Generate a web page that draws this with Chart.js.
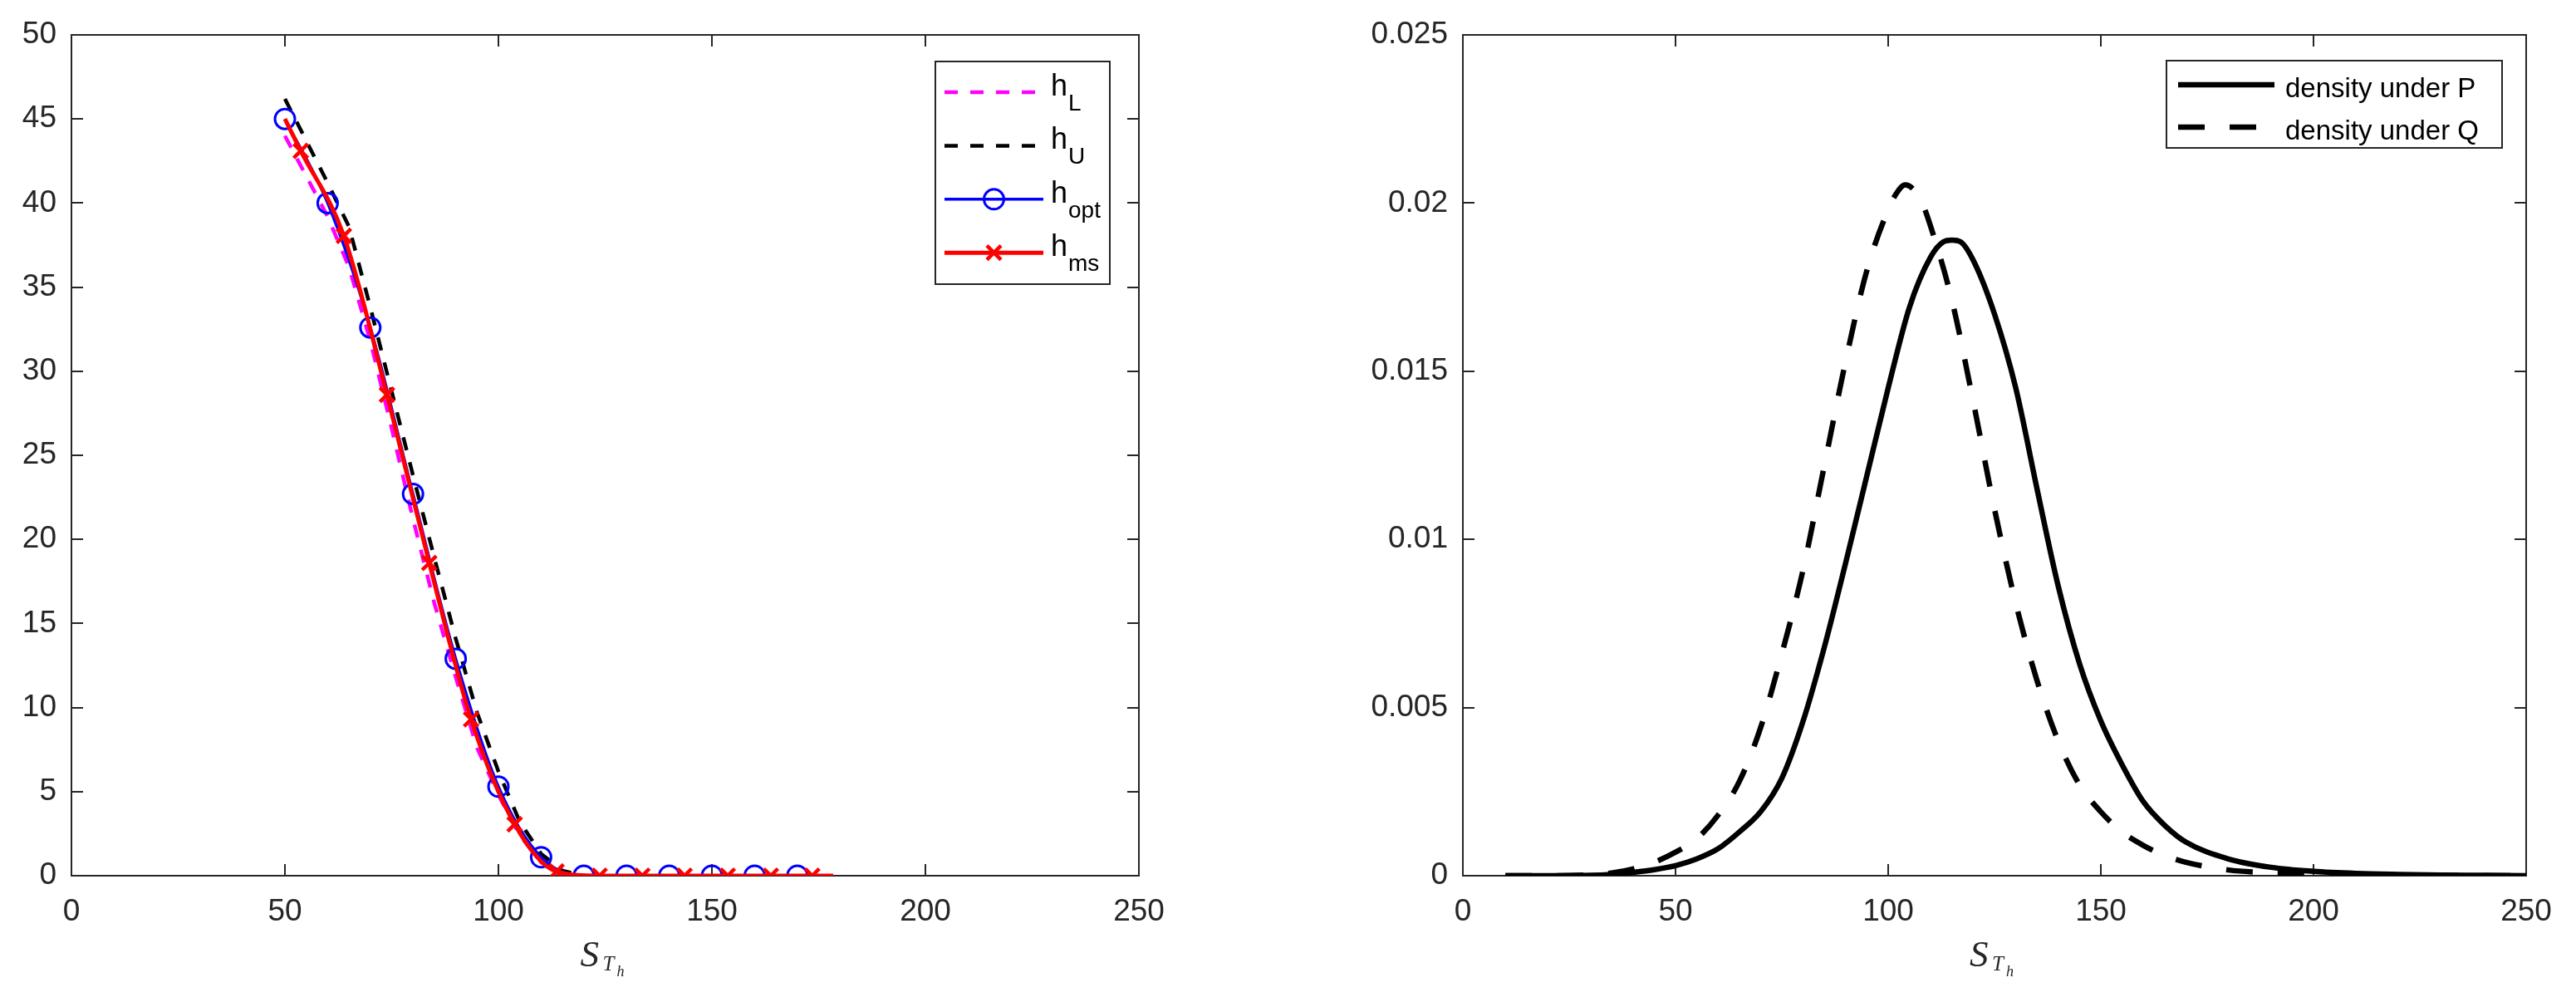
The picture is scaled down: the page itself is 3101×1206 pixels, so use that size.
<!DOCTYPE html>
<html>
<head>
<meta charset="utf-8">
<script src="https://cdn.jsdelivr.net/npm/chart.js@4.4.1/dist/chart.umd.min.js"></script>
<style>
  html, body { margin: 0; padding: 0; background: #fff; }
  #wrap { position: relative; width: 3101px; height: 1206px; }
  #wrap canvas { position: absolute; top: 0; }
  #left { left: 0; }
  #right { left: 1550px; }
</style>
</head>
<body>
<div id="wrap">
  <canvas id="left" width="1550" height="1206"></canvas>
  <canvas id="right" width="1551" height="1206"></canvas>
</div>
<script>
/* ---------------------------------------------------------------
   Data
   --------------------------------------------------------------- */
// left panel: bounds and hedges vs S_T
const hLx = [50, 55, 60, 65, 70, 75, 80, 85, 90, 95, 100, 105, 110, 115];
const hLy = [44.0, 41.6, 39.2, 36.2, 31.8, 26.6, 21.2, 16.2, 11.8, 7.6, 4.8, 2.4, 0.8, 0];

const hUx = [50, 55, 60, 65, 70, 75, 80, 85, 90, 95, 100, 105, 110, 115, 120];
const hUy = [46.2, 43.7, 41.2, 38.6, 33.8, 28.8, 23.8, 18.9, 14.1, 9.7, 6.2, 3.2, 1.3, 0.3, 0];

const optX = [50, 60, 70, 80, 90, 100, 110, 120, 130, 140, 150, 160, 170];
const optY = [45.0, 40.0, 32.6, 22.7, 12.9, 5.3, 1.1, 0, 0, 0, 0, 0, 0];

const msX = [50, 53.7, 63.8, 73.9, 83.8, 93.6, 103.8, 113.6, 123.7, 133.7, 143.6, 153.7, 163.8, 173.5, 178.4];
const msY = [45.0, 43.1, 38.05, 28.6, 18.6, 9.3, 3.06, 0.25, 0, 0, 0, 0, 0, 0, 0];

// right panel: densities
const pX = [10, 20, 30, 35, 40, 45, 50, 55, 60, 65, 70, 75, 80, 85, 90, 95, 100, 105, 110, 113, 115, 117, 120,
            125, 130, 135, 140, 145, 150, 155, 160, 165, 170, 180, 190, 200, 210, 220, 230, 240, 250];
const pY = [0, 0, 0.00001, 0.00004, 0.0001, 0.00018, 0.0003, 0.0005, 0.0008, 0.0013, 0.0019, 0.0029, 0.0046,
            0.0068, 0.0093, 0.0119, 0.0145, 0.0169, 0.0184, 0.01885, 0.0189, 0.01885, 0.0183,
            0.0167, 0.0145, 0.0115, 0.0086, 0.0063, 0.0046, 0.0033, 0.0022, 0.0015, 0.0010,
            0.0005, 0.00025, 0.00013, 0.00007, 0.00004, 0.00002, 0.00001, 0];

const qX = [10, 20, 30, 35, 40, 45, 50, 55, 60, 65, 70, 75, 80, 85, 90, 95, 100, 102, 104, 106, 108, 110, 115,
            120, 125, 130, 135, 140, 145, 150, 155, 160, 165, 170, 180, 190, 200, 210, 220, 230, 240, 250];
const qY = [0, 0, 0.00003, 0.00008, 0.0002, 0.0004, 0.0007, 0.0011, 0.0018, 0.0028, 0.0044, 0.0066, 0.0091,
            0.0122, 0.0153, 0.0180, 0.0198, 0.0203, 0.02054, 0.0204, 0.0200, 0.0193, 0.0171,
            0.0141, 0.0109, 0.0081, 0.0058, 0.0040, 0.0027, 0.0019, 0.0013, 0.0009, 0.0006, 0.0004,
            0.00017, 0.00009, 0.00005, 0.00003, 0.00002, 0.00001, 0, 0];

// axes
const xTicksMax = 250, xStep = 50;
const leftYMax = 50, leftYStep = 5;
const rightYMax = 0.025, rightYStep = 0.005;

/* ---------------------------------------------------------------
   helpers
   --------------------------------------------------------------- */
const AXIS = '#262626';
const SANS = '"Liberation Sans", Arial, Helvetica, sans-serif';
const SERIF = '"Liberation Serif", "Times New Roman", serif';
const pts = (xs, ys) => xs.map((x, i) => ({ x, y: ys[i] }));

// MATLAB-like box with inward ticks on all four sides
const boxPlugin = {
  id: 'mBox',
  beforeDatasetsDraw(chart) {
    const { ctx, chartArea: a, scales: { x, y } } = chart;
    const tl = 14;
    ctx.save();
    ctx.strokeStyle = AXIS;
    ctx.lineWidth = 2;
    ctx.strokeRect(a.left, a.top, a.width, a.height);
    ctx.beginPath();
    x.ticks.forEach(t => {
      const px = Math.round(x.getPixelForValue(t.value));
      ctx.moveTo(px, a.bottom); ctx.lineTo(px, a.bottom - tl);
      ctx.moveTo(px, a.top); ctx.lineTo(px, a.top + tl);
    });
    y.ticks.forEach(t => {
      const py = Math.round(y.getPixelForValue(t.value));
      ctx.moveTo(a.left, py); ctx.lineTo(a.left + tl, py);
      ctx.moveTo(a.right, py); ctx.lineTo(a.right - tl, py);
    });
    ctx.stroke();
    ctx.restore();
  }
};

// x-axis label S_{T_h}
const xLabelPlugin = {
  id: 'xLabel',
  afterDraw(chart) {
    const { ctx, chartArea: a } = chart;
    const cx = (a.left + a.right) / 2;
    ctx.save();
    ctx.fillStyle = AXIS;
    ctx.textBaseline = 'alphabetic';
    ctx.textAlign = 'left';
    ctx.font = `italic 45px ${SERIF}`;
    ctx.fillText('S', cx - 30, a.bottom + 109);
    ctx.font = `italic 25px ${SERIF}`;
    ctx.fillText('T', cx - 3, a.bottom + 114);
    ctx.font = `italic 18px ${SERIF}`;
    ctx.fillText('h', cx + 14, a.bottom + 121);
    ctx.restore();
  }
};

function drawMarker(ctx, kind, x, y, color) {
  ctx.save();
  ctx.strokeStyle = color;
  ctx.setLineDash([]);
  ctx.beginPath();
  if (kind === 'circle') {
    ctx.lineWidth = 3;
    ctx.arc(x, y, 12, 0, Math.PI * 2);
  } else {
    ctx.lineWidth = 4.5;
    const d = 8.5;
    ctx.moveTo(x - d, y - d); ctx.lineTo(x + d, y + d);
    ctx.moveTo(x - d, y + d); ctx.lineTo(x + d, y - d);
  }
  ctx.stroke();
  ctx.restore();
}

// boxed legend, top right of the axes
const legendPlugin = {
  id: 'boxLegend',
  afterDraw(chart, args, o) {
    if (!o.items) return;
    const { ctx, chartArea: a } = chart;
    const bx = a.right - o.right - o.width, by = a.top + o.top;
    ctx.save();
    ctx.fillStyle = '#fff';
    ctx.fillRect(bx, by, o.width, o.height);
    ctx.strokeStyle = AXIS;
    ctx.lineWidth = 2;
    ctx.strokeRect(bx, by, o.width, o.height);
    o.items.forEach((it, i) => {
      const ry = by + o.firstRow + i * o.rowGap;
      ctx.strokeStyle = it.color;
      ctx.lineWidth = it.width;
      ctx.lineCap = 'butt';
      ctx.setLineDash(it.dash || []);
      ctx.beginPath();
      ctx.moveTo(bx + o.lineFrom, ry);
      ctx.lineTo(bx + o.lineTo, ry);
      ctx.stroke();
      ctx.setLineDash([]);
      if (it.marker) drawMarker(ctx, it.marker, bx + (o.lineFrom + o.lineTo) / 2, ry, it.color);
      ctx.fillStyle = '#000';
      ctx.textBaseline = 'alphabetic';
      ctx.textAlign = 'left';
      ctx.font = o.font;
      const tx = bx + o.textX;
      ctx.fillText(it.text, tx, ry + o.baseShift);
      if (it.sub) {
        const w = ctx.measureText(it.text).width;
        ctx.font = o.subFont;
        ctx.fillText(it.sub, tx + w + 1, ry + o.subShift);
      }
    });
    ctx.restore();
  }
};

function axes(yMax, yStep, yWidth, yFmt) {
  const tickFont = { family: SANS, size: 37 };
  return {
    x: {
      type: 'linear', min: 0, max: xTicksMax,
      grid: { display: false, drawTicks: false },
      border: { display: false },
      ticks: { stepSize: xStep, font: tickFont, color: AXIS, padding: 22, maxRotation: 0, autoSkip: false },
      afterFit: s => { s.height = 152; }
    },
    y: {
      type: 'linear', min: 0, max: yMax,
      grid: { display: false, drawTicks: false },
      border: { display: false },
      ticks: { stepSize: yStep, font: tickFont, color: AXIS, padding: 18, autoSkip: false, callback: yFmt },
      afterFit: s => { s.width = yWidth; }
    }
  };
}

const common = {
  responsive: false,
  animation: false,
  events: [],
  plugins: { legend: { display: false }, tooltip: { enabled: false } }
};

/* ---------------------------------------------------------------
   left panel
   --------------------------------------------------------------- */
const msLast = msX.length - 1;
new Chart(document.getElementById('left'), {
  type: 'line',
  data: {
    datasets: [
      { label: 'h_ms', data: pts(msX, msY), order: 0, borderColor: '#ff0000', borderWidth: 5,
        cubicInterpolationMode: 'monotone', pointStyle: 'crossRot',
        pointRadius: c => (c.dataIndex === 0 || c.dataIndex === msLast) ? 0 : 12,
        pointBorderWidth: 4.5, pointBorderColor: '#ff0000', pointBackgroundColor: 'rgba(0,0,0,0)' },
      { label: 'h_opt', data: pts(optX, optY), order: 1, borderColor: '#0000ff', borderWidth: 3.5,
        cubicInterpolationMode: 'monotone', pointStyle: 'circle', pointRadius: 12,
        pointBorderWidth: 3, pointBorderColor: '#0000ff', pointBackgroundColor: 'rgba(0,0,0,0)' },
      { label: 'h_U', data: pts(hUx, hUy), order: 2, borderColor: '#000000', borderWidth: 4.5,
        borderDash: [16, 15], pointRadius: 0, tension: 0 },
      { label: 'h_L', data: pts(hLx, hLy), order: 3, borderColor: '#ff00ff', borderWidth: 4.5,
        borderDash: [16, 15], pointRadius: 0, tension: 0 }
    ]
  },
  options: {
    ...common,
    layout: { padding: { top: 42, right: 179, bottom: 0, left: 0 } },
    scales: axes(leftYMax, leftYStep, 86, v => String(v)),
    plugins: {
      ...common.plugins,
      boxLegend: {
        right: 35, top: 32, width: 210, height: 268,
        firstRow: 37, rowGap: 64.4, lineFrom: 11, lineTo: 130, textX: 139,
        baseShift: 4, subShift: 22,
        font: `36px ${SANS}`, subFont: `28px ${SANS}`,
        items: [
          { text: 'h', sub: 'L', color: '#ff00ff', width: 4.5, dash: [16, 15] },
          { text: 'h', sub: 'U', color: '#000000', width: 4.5, dash: [16, 15] },
          { text: 'h', sub: 'opt', color: '#0000ff', width: 3.5, marker: 'circle' },
          { text: 'h', sub: 'ms', color: '#ff0000', width: 5, marker: 'cross' }
        ]
      }
    }
  },
  plugins: [boxPlugin, xLabelPlugin, legendPlugin]
});

/* ---------------------------------------------------------------
   right panel
   --------------------------------------------------------------- */
new Chart(document.getElementById('right'), {
  type: 'line',
  data: {
    datasets: [
      { label: 'density under P', data: pts(pX, pY), borderColor: '#000', borderWidth: 6.5,
        cubicInterpolationMode: 'monotone', pointRadius: 0 },
      { label: 'density under Q', data: pts(qX, qY), borderColor: '#000', borderWidth: 6.5,
        borderDash: [32, 30], cubicInterpolationMode: 'monotone', pointRadius: 0 }
    ]
  },
  options: {
    ...common,
    layout: { padding: { top: 42, right: 60, bottom: 0, left: 0 } },
    scales: axes(rightYMax, rightYStep, 211, v => String(+v.toFixed(4))),
    plugins: {
      ...common.plugins,
      boxLegend: {
        right: 29, top: 31, width: 404, height: 105,
        firstRow: 29, rowGap: 51, lineFrom: 14, lineTo: 130, textX: 143,
        baseShift: 15,
        font: `33px ${SANS}`,
        items: [
          { text: 'density under P', color: '#000', width: 6.5 },
          { text: 'density under Q', color: '#000', width: 6.5, dash: [32, 30] }
        ]
      }
    }
  },
  plugins: [boxPlugin, xLabelPlugin, legendPlugin]
});
</script>
</body>
</html>
